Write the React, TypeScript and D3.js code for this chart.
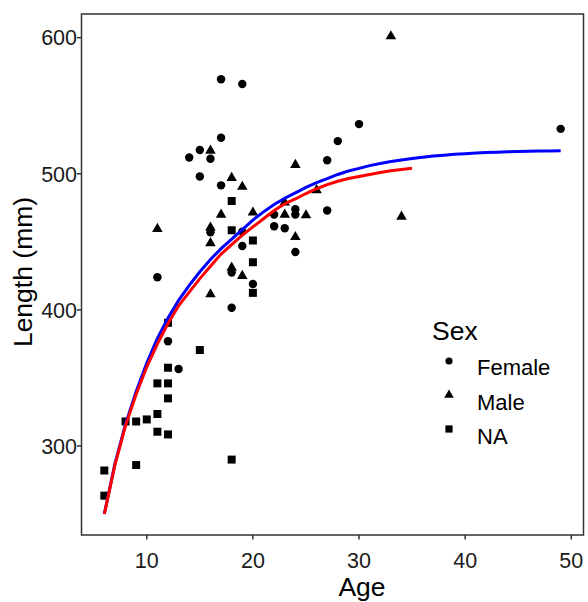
import React from "react";
import * as d3 from "d3";

// ---- Data ----
const femaleAge = [11, 12, 13, 14, 15, 15, 16, 16, 17, 17, 17, 18, 18, 19, 19, 19, 20, 22, 22, 23, 24, 24, 24, 27, 27, 28, 30, 49];
const femaleLen = [424, 377, 356.5, 512, 517.5, 498, 511, 457, 569.5, 526.5, 491.5, 427.5, 401.5, 566, 447, 457.5, 419, 470, 461.5, 460, 474, 470, 442.5, 510, 473, 524, 536.5, 533];

const maleAge = [11, 16, 16, 16, 16, 17, 18, 18, 19, 19, 20, 23, 23, 24, 24, 25, 26, 33, 34];
const maleLen = [459.5, 517, 460.5, 449, 411.5, 470, 497, 431, 490.5, 425, 471.5, 479, 470, 506.5, 453.5, 469.5, 488, 601, 468.5];

const naAge = [6, 6, 8, 9, 9, 10, 11, 11, 11, 12, 12, 12, 12, 12, 15, 18, 18, 18, 20, 20, 20];
const naLen = [282, 263.5, 318, 318, 286, 319.5, 346, 323.5, 310.5, 390.5, 357.5, 346, 335, 308.5, 370.5, 480, 458.5, 290, 451, 435, 412.5];

// fitted curves at each age
const blueAges = [6, 7, 8, 9, 10, 11, 12, 13, 14, 15, 16, 17, 18, 19, 20, 21, 22, 23, 24, 25, 26, 27, 28, 29, 30, 31, 32, 33, 34, 35, 36, 37, 38, 39, 40, 41, 42, 43, 44, 45, 46, 47, 48, 49];
const blueLen = [250, 287, 316, 340, 361, 379, 394, 407, 418, 428, 437, 445, 452, 459, 466, 472, 477.5, 482, 486, 490, 493.5, 496.5, 499.5, 502, 504, 506, 507.5, 509, 510.2, 511.3, 512.2, 513, 513.7, 514.3, 514.8, 515.2, 515.6, 515.9, 516.2, 516.4, 516.6, 516.7, 516.8, 516.9];
const redAges = [6, 7, 8, 9, 10, 11, 12, 13, 14, 15, 16, 17, 18, 19, 20, 21, 22, 23, 24, 25, 26, 27, 28, 29, 30, 31, 32, 33, 34, 35];
const redLen = [250, 286, 315, 338, 358, 375, 390, 403, 413, 423, 432, 441, 448, 455, 461, 467, 473, 478, 481.5, 485.5, 489, 492, 494.5, 496.5, 498, 499.5, 501, 502.2, 503.2, 504];

const xTicks = [10, 20, 30, 40, 50];
const yTicks = [300, 400, 500, 600];
const legendLabels = ["Female", "Male", "NA"];

const FONT = "'Liberation Sans', Arial, Helvetica, sans-serif";

export default function App() {
  const W = 588;
  const H = 602;
  const left = 81.5, right = 583.5, top = 14, bottom = 535;

  const x = d3.scaleLinear().domain([3.85, 51.15]).range([left, right]);
  const y = d3.scaleLinear().domain([234.6, 617.4]).range([bottom, top]);

  const circle = d3.symbol().type(d3.symbolCircle).size(56)();
  const tri = d3.symbol().type(d3.symbolTriangle).size(48)();
  const sq = d3.symbol().type(d3.symbolSquare).size(64)();

  const line = d3
    .line<[number, number]>()
    .x((d) => x(d[0]))
    .y((d) => y(d[1]));

  const blue = blueAges.map((a, i) => [a, blueLen[i]] as [number, number]);
  const red = redAges.map((a, i) => [a, redLen[i]] as [number, number]);

  const legendShapes = [
    d3.symbol().type(d3.symbolCircle).size(40)(),
    d3.symbol().type(d3.symbolTriangle).size(40)(),
    d3.symbol().type(d3.symbolSquare).size(52)(),
  ];
  const legendSymY = [361, 395, 429];
  const legendTextY = [375, 409.5, 443.5];

  return (
    <svg
      width={W}
      height={H}
      style={{ position: "absolute", left: 0, top: 0, display: "block", background: "#fff" }}
      fontFamily={FONT}
    >
      <rect x={0} y={0} width={W} height={H} fill="#fff" />

      {/* points */}
      {naAge.map((a, i) => (
        <path key={"n" + i} d={sq!} transform={`translate(${x(a)},${y(naLen[i])})`} fill="#000" />
      ))}
      {femaleAge.map((a, i) => (
        <path key={"f" + i} d={circle!} transform={`translate(${x(a)},${y(femaleLen[i])})`} fill="#000" />
      ))}
      {maleAge.map((a, i) => (
        <path key={"m" + i} d={tri!} transform={`translate(${x(a)},${y(maleLen[i])})`} fill="#000" />
      ))}

      {/* fitted curves */}
      <path d={line(blue)!} fill="none" stroke="#0000ff" strokeWidth={3} />
      <path d={line(red)!} fill="none" stroke="#ff0000" strokeWidth={3} />

      {/* panel border */}
      <rect x={left} y={top} width={right - left} height={bottom - top} fill="none" stroke="#333" strokeWidth={1.5} />

      {/* x axis */}
      {xTicks.map((t) => (
        <g key={"xt" + t}>
          <line x1={x(t)} x2={x(t)} y1={bottom} y2={bottom + 4.5} stroke="#333" strokeWidth={1.5} />
          <text x={x(t)} y={568} textAnchor="middle" fontSize={21.5} fill="#1a1a1a">
            {t}
          </text>
        </g>
      ))}
      {/* y axis */}
      {yTicks.map((t) => (
        <g key={"yt" + t}>
          <line x1={left - 4.5} x2={left} y1={y(t)} y2={y(t)} stroke="#333" strokeWidth={1.5} />
          <text x={77} y={y(t)} dy="0.36em" textAnchor="end" fontSize={21.5} fill="#1a1a1a">
            {t}
          </text>
        </g>
      ))}

      {/* axis titles */}
      <text x={362} y={596} textAnchor="middle" fontSize={26.5} fill="#000">
        Age
      </text>
      <text
        transform={`translate(32,${272}) rotate(-90)`}
        textAnchor="middle"
        fontSize={26.5}
        fill="#000"
      >
        Length (mm)
      </text>

      {/* legend */}
      <text x={432} y={340} fontSize={26.5} fill="#000">
        Sex
      </text>
      {legendLabels.map((lab, i) => (
        <g key={"lg" + lab}>
          <path d={legendShapes[i]!} transform={`translate(449,${legendSymY[i]})`} fill="#000" />
          <text x={477} y={legendTextY[i]} fontSize={22} fill="#000">
            {lab}
          </text>
        </g>
      ))}
    </svg>
  );
}
